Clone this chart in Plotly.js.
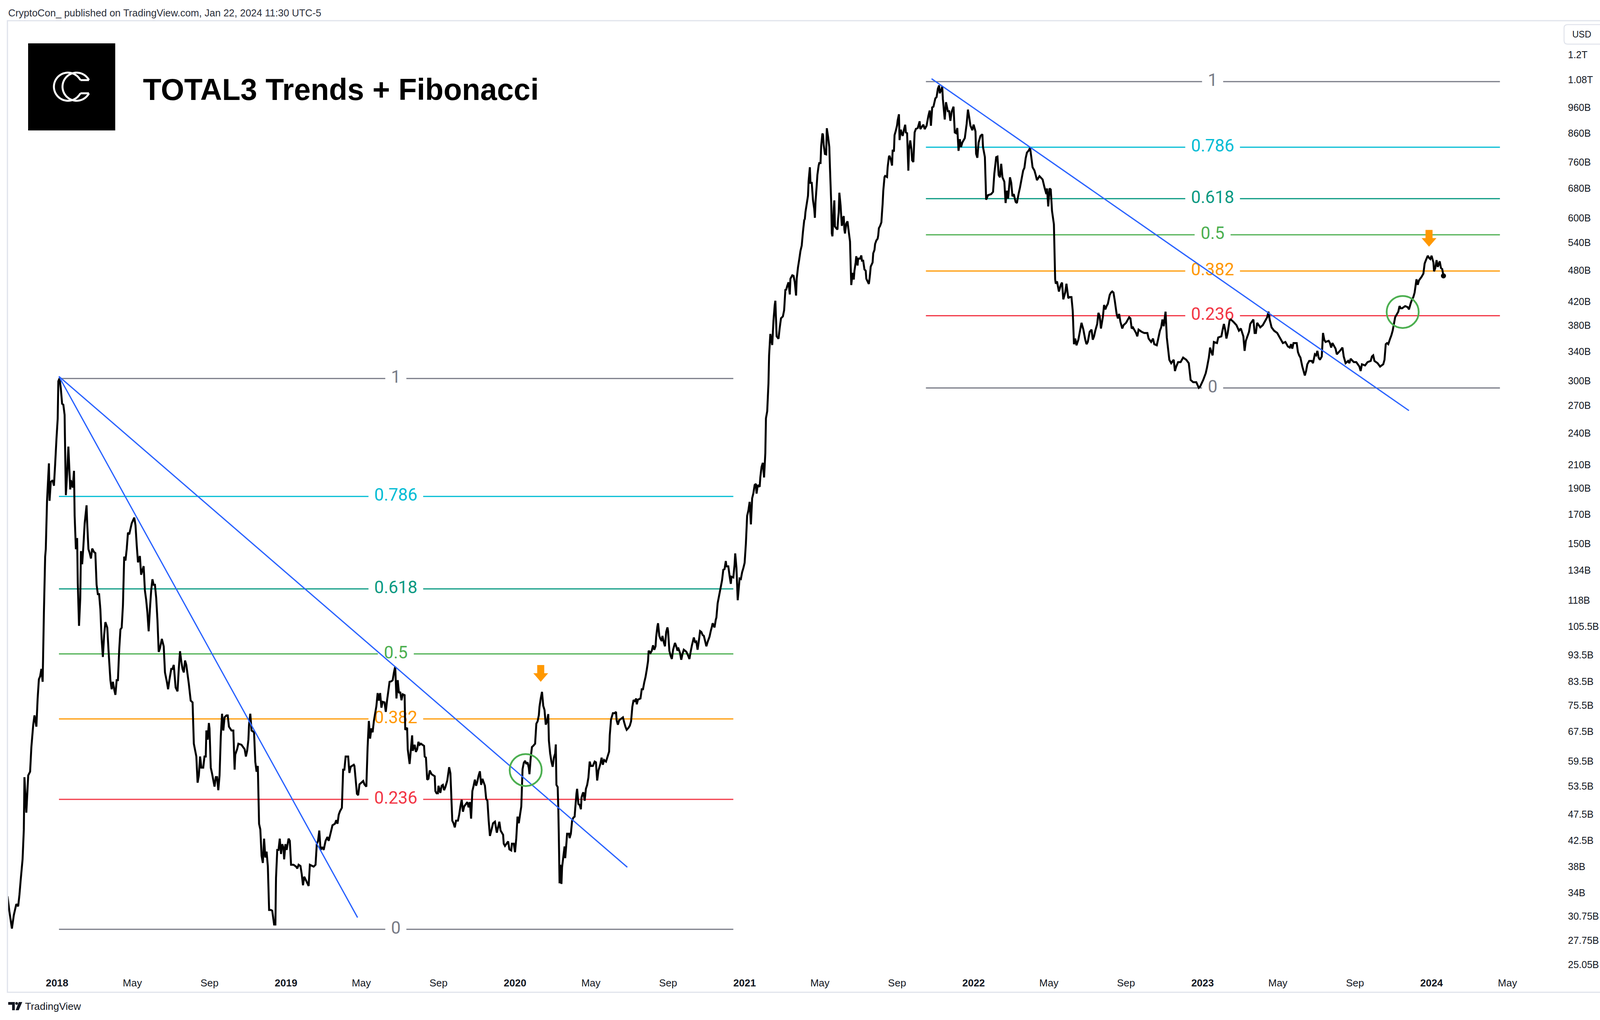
<!DOCTYPE html>
<html><head><meta charset="utf-8">
<script src="https://cdn.plot.ly/plotly-3.0.1.min.js"></script>
<style>html,body{margin:0;padding:0;background:#fff;}#chart{width:4164px;height:2612px;}</style>
</head><body><div id="chart"></div>
<script>
// ---------------- DATA (values in USD billions) ----------------
const priceA = [["2017-10-14",33.5],["2017-10-17",31.4],["2017-10-21",29.2],["2017-10-24",30.9],["2017-10-28",32.4],["2017-10-31",32.1],["2017-11-02",33.7],["2017-11-04",35.9],["2017-11-07",39.2],["2017-11-09",44.5],["2017-11-10",55.6],["2017-11-13",47.8],["2017-11-16",56.0],["2017-11-19",56.9],["2017-11-21",63.1],["2017-11-24",69.5],["2017-11-26",72.3],["2017-11-29",68.9],["2017-12-01",77.6],["2017-12-03",84.3],["2017-12-05",85.4],["2017-12-07",88.1],["2017-12-09",83.4],["2017-12-11",111.9],["2017-12-13",142.0],["2017-12-14",146.6],["2017-12-16",180.1],["2017-12-19",211.2],["2017-12-20",180.1],["2017-12-22",195.1],["2017-12-25",196.6],["2017-12-27",192.0],["2017-12-29",211.2],["2017-12-31",234.1],
["2018-01-02",255.5],["2018-01-03",299.5],["2018-01-05",303.3],["2018-01-07",290.1],["2018-01-09",272.2],["2018-01-11",271.0],["2018-01-13",259.6],["2018-01-14",218.0],["2018-01-15",184.5],["2018-01-17",201.4],["2018-01-19",226.8],["2018-01-22",189.0],["2018-01-23",196.6],["2018-01-26",190.5],["2018-01-28",204.6],["2018-01-29",169.0],["2018-01-31",146.6],["2018-02-02",153.7],["2018-02-03",127.0],["2018-02-05",105.8],["2018-02-07",119.2],["2018-02-08",145.4],["2018-02-10",137.5],["2018-02-12",148.9],["2018-02-14",163.7],["2018-02-17",176.7],["2018-02-18",163.7],["2018-02-20",146.6],["2018-02-22",144.2],["2018-02-24",140.9],["2018-02-26",147.0],["2018-03-01",144.8],["2018-03-03",144.2],["2018-03-05",126.0],["2018-03-07",121.1],["2018-03-09",121.1],["2018-03-11",113.6],["2018-03-13",100.1],["2018-03-15",92.7],["2018-03-17",101.7],["2018-03-19",107.5],["2018-03-22",105.0],["2018-03-24",95.4],["2018-03-27",84.0],["2018-03-29",80.8],["2018-03-31",83.4],["2018-04-02",80.8],["2018-04-04",78.9],["2018-04-06",84.0],["2018-04-08",84.0],["2018-04-10",95.4],["2018-04-12",104.2],["2018-04-14",105.0],["2018-04-16",115.5],["2018-04-18",142.0],["2018-04-20",139.7],["2018-04-22",146.6],["2018-04-24",157.3],["2018-04-26",156.1],["2018-04-30",163.7],["2018-05-04",167.7],["2018-05-06",162.4],["2018-05-08",148.9],["2018-05-10",138.6],["2018-05-13",142.4],["2018-05-15",131.5],["2018-05-19",136.4],["2018-05-21",123.0],["2018-05-23",118.2],["2018-05-25",111.9],["2018-05-27",103.4],["2018-05-29",113.6],["2018-05-31",123.0],["2018-06-02",129.0],["2018-06-04",126.0],["2018-06-06",126.0],["2018-06-08",119.2],["2018-06-10",108.4],["2018-06-12",94.7],["2018-06-14",96.2],["2018-06-17",100.1],["2018-06-20",97.0],["2018-06-22",86.8],["2018-06-25",83.4],["2018-06-27",80.8],["2018-06-29",84.0],["2018-07-02",88.1],["2018-07-04",88.1],["2018-07-06",89.6],["2018-07-08",84.0],["2018-07-09",81.4],["2018-07-12",80.1],["2018-07-14",88.1],["2018-07-16",95.0],["2018-07-18",91.0],["2018-07-20",88.1],["2018-07-22",86.8],["2018-07-24",91.3],["2018-07-26",89.6],["2018-07-30",82.7],["2018-08-02",77.0],["2018-08-05",76.4],["2018-08-07",64.1],["2018-08-11",60.7],["2018-08-13",54.3],["2018-08-15",56.0],["2018-08-17",60.7],["2018-08-19",57.9],["2018-08-22",57.9],["2018-08-24",60.7],["2018-08-26",60.7],["2018-08-27",67.8],["2018-08-29",65.2],["2018-08-31",70.0],["2018-09-01",68.4],["2018-09-03",57.9],["2018-09-05",56.5],["2018-09-09",53.4],["2018-09-11",55.6],["2018-09-13",55.6],["2018-09-15",52.6],["2018-09-17",56.0],["2018-09-19",66.2],["2018-09-21",72.8],["2018-09-23",67.8],["2018-09-25",71.7],["2018-09-28",72.3],["2018-09-30",72.3],["2018-10-02",68.9],["2018-10-06",67.8],["2018-10-09",67.8],["2018-10-11",57.4],["2018-10-12",61.2],["2018-10-15",62.6],["2018-10-17",64.1],["2018-10-22",63.8],["2018-10-27",62.6],["2018-10-29",60.7],["2018-10-31",62.2],["2018-11-02",65.2],["2018-11-03",69.5],["2018-11-05",72.8],["2018-11-07",67.8],["2018-11-11",67.3],["2018-11-13",59.3],["2018-11-15",56.9],["2018-11-17",58.3],["2018-11-19",45.6],["2018-11-21",44.5],["2018-11-23",39.8],["2018-11-25",38.6],["2018-11-27",42.8],["2018-11-29",39.5],["2018-12-01",40.5],["2018-12-03",38.0],["2018-12-05",31.6],["2018-12-08",31.6],["2018-12-10",31.5],["2018-12-13",29.7],["2018-12-15",29.7],["2018-12-16",36.2],["2018-12-18",40.8],["2018-12-20",40.8],["2018-12-22",42.8],["2018-12-24",40.1],["2018-12-26",41.8],["2018-12-28",41.1],["2018-12-29",39.2],["2018-12-31",41.8]];
const priceB = [["2019-01-02",40.8],["2019-01-05",42.8],["2019-01-07",42.4],["2019-01-09",38.3],["2019-01-13",38.3],["2019-01-17",38.0],["2019-01-19",37.7],["2019-01-21",38.3],["2019-01-24",38.1],["2019-01-26",36.8],["2019-01-28",35.1],["2019-01-30",36.4],["2019-02-02",35.8],["2019-02-06",35.0],["2019-02-08",38.3],["2019-02-14",38.0],["2019-02-17",38.3],["2019-02-19",41.8],["2019-02-21",42.4],["2019-02-23",44.3],["2019-02-25",40.8],["2019-02-28",41.3],["2019-03-02",40.8],["2019-03-05",42.4],["2019-03-08",43.1],["2019-03-10",42.4],["2019-03-13",43.8],["2019-03-16",45.3],["2019-03-20",45.6],["2019-03-22",46.3],["2019-03-24",45.6],["2019-03-26",47.4],["2019-03-28",48.1],["2019-03-31",48.8],["2019-04-02",57.4],["2019-04-04",57.4],["2019-04-06",60.7],["2019-04-10",60.7],["2019-04-12",56.6],["2019-04-14",58.1],["2019-04-19",58.6],["2019-04-20",58.3],["2019-04-22",55.0],["2019-04-24",51.8],["2019-04-26",51.5],["2019-04-28",53.9],["2019-05-04",54.7],["2019-05-06",53.9],["2019-05-09",53.4],["2019-05-11",63.1],["2019-05-13",70.6],["2019-05-15",65.5],["2019-05-17",68.4],["2019-05-19",67.3],["2019-05-21",70.6],["2019-05-25",75.2],["2019-05-27",79.5],["2019-05-29",77.0],["2019-05-31",79.5],["2019-06-02",74.7],["2019-06-04",76.6],["2019-06-07",76.4],["2019-06-09",73.4],["2019-06-11",77.0],["2019-06-13",80.1],["2019-06-15",83.4]];
const priceC = [["2019-06-18",83.6],["2019-06-20",84.0],["2019-06-22",86.8],["2019-06-24",89.0],["2019-06-26",77.7],["2019-06-28",84.0],["2019-06-30",79.5],["2019-07-02",79.9],["2019-07-04",77.1],["2019-07-06",79.1],["2019-07-09",78.8],["2019-07-10",68.0],["2019-07-13",68.6],["2019-07-14",62.6],["2019-07-17",58.8],["2019-07-19",62.6],["2019-07-21",66.4],["2019-07-22",62.2],["2019-07-25",63.8],["2019-07-27",61.9],["2019-07-29",62.6],["2019-07-31",64.6],["2019-08-02",63.8],["2019-08-04",64.1],["2019-08-09",63.5],["2019-08-10",60.7],["2019-08-12",60.4],["2019-08-14",55.0],["2019-08-16",55.2],["2019-08-18",57.2],["2019-08-21",56.3],["2019-08-26",55.8],["2019-08-27",52.4],["2019-08-29",51.9],["2019-08-31",51.9],["2019-09-01",53.6],["2019-09-04",52.0],["2019-09-06",53.6],["2019-09-08",53.8],["2019-09-10",52.6],["2019-09-12",53.3],["2019-09-15",54.8],["2019-09-18",58.0],["2019-09-20",56.5],["2019-09-23",46.2],["2019-09-25",45.7],["2019-09-27",44.9],["2019-09-29",46.2],["2019-10-02",46.2],["2019-10-04",47.4],["2019-10-06",49.1],["2019-10-08",50.5],["2019-10-10",48.0],["2019-10-12",49.1],["2019-10-17",50.0],["2019-10-19",48.9],["2019-10-21",50.0],["2019-10-23",46.6],["2019-10-25",52.4],["2019-10-27",53.6],["2019-10-29",55.0],["2019-10-31",53.6],["2019-11-02",54.6],["2019-11-04",56.0],["2019-11-06",57.0],["2019-11-08",53.8],["2019-11-10",55.2],["2019-11-14",53.6],["2019-11-16",50.7],["2019-11-18",50.3],["2019-11-20",46.2],["2019-11-22",43.3],["2019-11-25",44.7],["2019-11-27",45.7],["2019-11-30",46.0],["2019-12-03",43.9],["2019-12-05",44.9],["2019-12-07",46.0],["2019-12-09",44.3],["2019-12-13",43.5],["2019-12-14",41.9],["2019-12-16",41.5],["2019-12-21",42.3],["2019-12-23",40.9],["2019-12-26",40.7],["2019-12-27",41.9],["2019-12-30",41.9],
["2020-01-01",40.4],["2020-01-03",42.9],["2020-01-05",47.0],["2020-01-07",45.7],["2020-01-09",47.4],["2020-01-11",49.1],["2020-01-13",57.5],["2020-01-15",59.1],["2020-01-17",59.6],["2020-01-19",58.8],["2020-01-21",59.2],["2020-01-23",57.8],["2020-01-24",56.3],["2020-01-26",60.4],["2020-01-28",63.2],["2020-01-30",63.5],["2020-02-02",64.1],["2020-02-04",69.8],["2020-02-06",70.5],["2020-02-08",72.4],["2020-02-09",75.0],["2020-02-11",77.7],["2020-02-13",79.9],["2020-02-15",75.3],["2020-02-17",74.0],["2020-02-19",69.5],["2020-02-21",70.5],["2020-02-23",72.7],["2020-02-24",64.9],["2020-02-26",61.5],["2020-02-28",59.4],["2020-03-01",58.1],["2020-03-03",60.4],["2020-03-05",61.5],["2020-03-06",63.9],["2020-03-07",53.8],["2020-03-09",53.3],["2020-03-10",48.7],["2020-03-11",42.1],["2020-03-12",35.4],["2020-03-13",38.3],["2020-03-15",35.3],["2020-03-16",37.9],["2020-03-18",39.6],["2020-03-20",41.4],["2020-03-21",39.4],["2020-03-23",42.1],["2020-03-24",43.7],["2020-03-27",43.7],["2020-03-28",42.9],["2020-03-30",43.7],["2020-04-01",46.2],["2020-04-03",46.8],["2020-04-05",47.0],["2020-04-06",48.7],["2020-04-08",51.9],["2020-04-09",52.9],["2020-04-11",49.6],["2020-04-13",49.4],["2020-04-15",48.5],["2020-04-16",51.0],["2020-04-18",51.9],["2020-04-19",52.1],["2020-04-21",50.3],["2020-04-23",52.9],["2020-04-25",53.8],["2020-04-27",55.5],["2020-04-29",59.4],["2020-05-01",58.3],["2020-05-04",58.3],["2020-05-07",59.4],["2020-05-09",59.2],["2020-05-11",54.8],["2020-05-13",57.2],["2020-05-16",58.8],["2020-05-18",60.4],["2020-05-20",58.6],["2020-05-22",59.8],["2020-05-25",59.4],["2020-05-27",60.4],["2020-05-30",62.0],["2020-05-31",66.4],["2020-06-02",71.0],["2020-06-05",73.0],["2020-06-08",73.0],["2020-06-10",73.4],["2020-06-11",70.8],["2020-06-13",69.5],["2020-06-15",70.8],["2020-06-19",71.4],["2020-06-21",71.7],["2020-06-23",70.2],["2020-06-25",68.9],["2020-06-27",68.0],["2020-06-30",68.6],["2020-07-02",69.2],["2020-07-04",70.5],["2020-07-06",75.0],["2020-07-08",77.2],["2020-07-10",76.6],["2020-07-12",77.7],["2020-07-13",75.8],["2020-07-15",77.3],["2020-07-19",77.7],["2020-07-21",80.8],["2020-07-23",80.8],["2020-07-25",83.2],["2020-07-27",85.1],["2020-07-29",87.8],["2020-07-31",91.0],["2020-08-01",95.2],["2020-08-04",94.3],["2020-08-06",95.2],["2020-08-08",97.4],["2020-08-10",95.6],["2020-08-12",97.0],["2020-08-13",101.0],["2020-08-15",105.6],["2020-08-16",107.0],["2020-08-18",101.4],["2020-08-20",100.0],["2020-08-22",99.2],["2020-08-23",101.4],["2020-08-25",98.8],["2020-08-27",97.0],["2020-08-29",103.1],["2020-08-31",105.1],["2020-09-01",103.5],["2020-09-03",95.2],["2020-09-05",93.2],["2020-09-07",91.9],["2020-09-09",95.6],["2020-09-12",98.4],["2020-09-14",97.0],["2020-09-16",95.2],["2020-09-17",96.5],["2020-09-20",94.3],["2020-09-22",91.6],["2020-09-24",93.9],["2020-09-26",95.6],["2020-09-30",94.8],["2020-10-03",93.2],["2020-10-05",91.9],["2020-10-07",94.8],["2020-10-09",97.4],["2020-10-12",100.7],["2020-10-14",98.8],["2020-10-16",99.0],["2020-10-18",95.6],["2020-10-20",99.2],["2020-10-22",103.5],["2020-10-24",103.1],["2020-10-26",101.8],["2020-10-28",101.4],["2020-10-30",99.2],["2020-11-01",97.0],["2020-11-03",98.8],["2020-11-06",101.0],["2020-11-08",103.5],["2020-11-10",105.6],["2020-11-11",107.0],["2020-11-14",105.1],["2020-11-16",108.6],["2020-11-17",109.6],["2020-11-19",116.5]];
const priceD = [["2020-11-26",128.4],["2020-11-28",134.3],["2020-11-30",134.7],["2020-12-02",139.4],["2020-12-03",136.3],["2020-12-06",136.3],["2020-12-08",130.9],["2020-12-10",126.5],["2020-12-11",130.4],["2020-12-14",130.0],["2020-12-16",137.3],["2020-12-17",144.0],["2020-12-19",135.3],["2020-12-21",118.0],["2020-12-24",129.4],["2020-12-26",129.1],["2020-12-28",132.9],["2020-12-30",135.3],
["2021-01-01",138.3],["2021-01-03",150.1],["2021-01-05",169.0],["2021-01-07",172.8],["2021-01-09",179.3],["2021-01-11",162.9],["2021-01-13",182.0],["2021-01-15",186.1],["2021-01-17",192.6],["2021-01-19",193.6],["2021-01-20",185.7],["2021-01-22",192.6],["2021-01-25",191.2],["2021-01-26",198.9],["2021-01-28",208.0],["2021-01-30",211.7],["2021-02-01",198.9],["2021-02-03",220.7],["2021-02-04",255.9],["2021-02-06",263.6],["2021-02-08",296.8],["2021-02-09",334.2],["2021-02-11",366.3],["2021-02-14",349.4],["2021-02-16",387.6],["2021-02-18",414.3],["2021-02-19",421.8],["2021-02-21",362.6],["2021-02-24",358.8],["2021-02-26",376.3],["2021-02-28",391.6],["2021-03-03",394.6],["2021-03-05",405.2],["2021-03-07",442.9],["2021-03-08",440.9],["2021-03-10",449.5],["2021-03-12",456.2],["2021-03-14",433.2],["2021-03-15",463.1],["2021-03-18",470.0],["2021-03-20",469.0],["2021-03-22",456.2],["2021-03-24",431.2],["2021-03-25",463.1],["2021-03-27",485.5],["2021-03-29",502.4],["2021-03-31",521.3],["2021-04-02",533.1],["2021-04-04",565.6],["2021-04-06",594.0],["2021-04-07",597.4],["2021-04-08",615.5],["2021-04-10",636.9],["2021-04-12",659.0],["2021-04-13",701.3],["2021-04-15",744.2],["2021-04-16",696.3],["2021-04-18",696.3],["2021-04-20",646.4],["2021-04-22",622.9],["2021-04-23",600.2],["2021-04-24",641.6],["2021-04-26",691.1],["2021-04-27",720.3],["2021-04-29",749.6],["2021-04-30",757.6],["2021-05-02",757.6],["2021-05-03",813.4],["2021-05-05",859.3],["2021-05-06",854.2],["2021-05-07",819.4],["2021-05-09",787.3],["2021-05-11",786.0],["2021-05-12",878.6],["2021-05-14",847.8],["2021-05-16",811.0],["2021-05-17",744.2],["2021-05-19",641.6],["2021-05-20",561.5],["2021-05-21",554.8],["2021-05-23",622.9],["2021-05-24",646.4],["2021-05-25",578.3],["2021-05-27",574.2],["2021-05-29",571.0],["2021-05-30",597.4],["2021-05-31",613.7],["2021-06-01",667.8],["2021-06-03",632.2],["2021-06-04",602.8],["2021-06-05",580.0],["2021-06-07",600.2],["2021-06-08",604.6],["2021-06-09",571.0],["2021-06-10",561.5],["2021-06-12",585.3],["2021-06-14",591.3],["2021-06-16",565.6],["2021-06-18",542.6],["2021-06-19",491.4],["2021-06-20",450.9],["2021-06-22",474.9],["2021-06-24",461.7],["2021-06-25",478.4],["2021-06-27",496.4],["2021-06-28",509.8],["2021-06-30",489.9],["2021-07-01",504.6],["2021-07-04",504.6],["2021-07-06",511.4],["2021-07-07",500.1],["2021-07-09",500.1],["2021-07-11",481.9],["2021-07-13",479.1],["2021-07-14",463.1],["2021-07-18",452.9],["2021-07-19",461.7],["2021-07-20",473.5],["2021-07-21",487.7],["2021-07-24",496.4],["2021-07-25",516.0],["2021-07-27",523.7],["2021-07-28",537.0],["2021-07-30",545.1],["2021-08-01",549.1],["2021-08-02",557.3],["2021-08-03",574.2],["2021-08-05",580.0],["2021-08-07",588.8],["2021-08-08",613.7],["2021-08-09",636.9],["2021-08-10",672.7],["2021-08-12",713.9],["2021-08-13",717.1],["2021-08-16",713.9],["2021-08-17",744.2],["2021-08-19",778.0],["2021-08-20",781.4],["2021-08-22",768.8],["2021-08-24",749.6],["2021-08-25",801.5],["2021-08-27",795.4],["2021-08-28",852.9],["2021-08-30",869.4],["2021-09-01",889.1],["2021-09-02",909.0],["2021-09-04",932.2],["2021-09-05",835.4],["2021-09-07",873.3],["2021-09-08",863.1],["2021-09-10",850.4],["2021-09-12",873.3],["2021-09-14",891.6],["2021-09-15",863.1],["2021-09-17",860.0],["2021-09-19",733.3],["2021-09-20",801.5],["2021-09-22",834.1],["2021-09-24",801.5],["2021-09-25",766.6],["2021-09-27",760.9],["2021-09-29",863.1],["2021-10-01",876.0]];
const priceE = [["2021-10-04",879.4],["2021-10-07",904.9],["2021-10-08",875.2],["2021-10-13",892.1],["2021-10-15",875.2],["2021-10-18",887.8],["2021-10-21",926.8],["2021-10-23",947.3],["2021-10-25",887.8],["2021-10-27",959.9],["2021-10-29",962.8],["2021-11-01",997.3],["2021-11-03",1003.0],["2021-11-05",1039.0],["2021-11-07",1053.9],["2021-11-08",1019.4],["2021-11-11",1039.0],["2021-11-12",1048.8],["2021-11-13",995.4],["2021-11-16",911.8],["2021-11-18",981.3],["2021-11-21",944.6],["2021-11-23",944.6],["2021-11-25",906.7],["2021-11-27",941.9],["2021-11-30",962.8],["2021-12-02",862.8],["2021-12-04",860.3],["2021-12-06",879.4],["2021-12-08",797.9],["2021-12-10",838.5],["2021-12-12",811.0],["2021-12-14",826.6],["2021-12-18",842.5],["2021-12-21",896.3],["2021-12-23",950.9],["2021-12-25",920.5],["2021-12-27",887.8],["2021-12-30",871.0],
["2022-01-01",892.1],["2022-01-04",866.8],["2022-01-05",788.1],["2022-01-07",774.8],["2022-01-09",826.6],["2022-01-12",850.6],["2022-01-15",856.3],["2022-01-16",811.0],["2022-01-19",776.9],["2022-01-21",648.3],["2022-01-24",660.8],["2022-01-29",663.9],["2022-02-01",670.3],["2022-02-03",723.4],["2022-02-06",776.9],["2022-02-08",778.7],["2022-02-10",720.0],["2022-02-12",713.1],["2022-02-14",755.0],["2022-02-16",713.1],["2022-02-19",699.7],["2022-02-21",639.1],["2022-02-23",673.5],["2022-02-25",651.4],["2022-02-28",713.1],["2022-03-02",696.4],["2022-03-04",657.6],["2022-03-06",663.9],["2022-03-09",642.2],["2022-03-11",639.1],["2022-03-14",667.1],["2022-03-16",683.2],["2022-03-18",703.1],["2022-03-21",733.8],["2022-03-23",742.2],["2022-03-25",773.3],["2022-03-27",791.8],["2022-03-30",799.4],["2022-04-01",808.6],["2022-04-03",776.9],["2022-04-05",744.3],["2022-04-08",733.8],["2022-04-10",720.0],["2022-04-12",704.4],["2022-04-16",716.5],["2022-04-21",706.4],["2022-04-24",683.2],["2022-04-27",663.9],["2022-04-28",680.0],["2022-04-30",630.1],["2022-05-02",680.0],["2022-05-04",676.7],["2022-05-06",618.1],["2022-05-09",583.8],["2022-05-11",462.2],["2022-05-12",453.5],["2022-05-14",457.9],["2022-05-17",438.7],["2022-05-20",451.4],["2022-05-22",455.7],["2022-05-24",424.3],["2022-05-27",436.6],["2022-05-29",453.5],["2022-06-01",426.3],["2022-06-03",428.4],["2022-06-06",428.4],["2022-06-08",404.5],["2022-06-10",350.6],["2022-06-12",359.1],["2022-06-14",349.0],["2022-06-17",357.4],["2022-06-19",367.7],["2022-06-22",383.9],["2022-06-25",373.0],["2022-06-28",357.4],["2022-06-30",350.6],["2022-07-02",354.0],["2022-07-05",369.5],["2022-07-08",373.0],["2022-07-10",357.4],["2022-07-12",362.5],["2022-07-14",371.3],["2022-07-17",382.1],["2022-07-19",400.7],["2022-07-21",395.0],["2022-07-23",374.8],["2022-07-26",393.2],["2022-07-28",414.3],["2022-07-30",406.5],["2022-08-01",412.3],["2022-08-03",416.3],["2022-08-06",432.5],["2022-08-08",436.6],["2022-08-10",438.7],["2022-08-12",436.6],["2022-08-14",422.3],["2022-08-17",398.8],["2022-08-19",391.3],["2022-08-21",398.8],["2022-08-23",385.8],["2022-08-26",374.8],["2022-08-28",380.2],["2022-09-01",383.9],["2022-09-06",393.2],["2022-09-08",391.3],["2022-09-10",374.8],["2022-09-12",376.6],["2022-09-17",367.7],["2022-09-19",362.5],["2022-09-21",373.0],["2022-09-26",369.5],["2022-09-30",367.7],["2022-10-05",367.7],["2022-10-07",359.1],["2022-10-11",354.0],["2022-10-14",359.1],["2022-10-16",350.6],["2022-10-20",349.0],["2022-10-22",357.4],["2022-10-25",371.3],["2022-10-27",376.6],["2022-10-29",389.4],["2022-10-31",378.5],["2022-11-03",402.6],["2022-11-05",360.8],["2022-11-07",344.0],["2022-11-09",328.1],["2022-11-12",323.4],["2022-11-16",328.1],["2022-11-18",312.8],["2022-11-20",318.8],["2022-11-23",324.9],["2022-11-27",324.9],["2022-12-01",331.2],["2022-12-06",328.1],["2022-12-10",323.4],["2022-12-13",301.1],["2022-12-17",298.3],["2022-12-22",298.3],["2022-12-26",291.2],["2022-12-28",292.6]];
const priceF = [["2023-01-02",301.1],["2023-01-06",309.8],["2023-01-08",317.3],["2023-01-11",331.2],["2023-01-13",345.6],["2023-01-15",339.2],["2023-01-17",334.3],["2023-01-19",354.0],["2023-01-24",352.3],["2023-01-26",360.8],["2023-01-31",362.5],["2023-02-02",373.0],["2023-02-04",382.1],["2023-02-06",373.0],["2023-02-08",359.1],["2023-02-10",367.7],["2023-02-13",387.6],["2023-02-15",389.4],["2023-02-19",385.8],["2023-02-24",380.2],["2023-02-28",371.3],["2023-03-03",374.8],["2023-03-07",362.5],["2023-03-09",340.8],["2023-03-11",355.7],["2023-03-16",369.5],["2023-03-18",382.1],["2023-03-23",389.4],["2023-03-25",367.7],["2023-03-27",367.7],["2023-03-29",383.9],["2023-04-03",376.6],["2023-04-07",380.2],["2023-04-12",389.4],["2023-04-14",393.2],["2023-04-16",402.6],["2023-04-18",389.4],["2023-04-21",376.6],["2023-04-25",371.3],["2023-04-30",367.7],["2023-05-04",360.8],["2023-05-09",352.3],["2023-05-13",354.0],["2023-05-17",347.3],["2023-05-20",345.6],["2023-05-22",350.6],["2023-05-24",344.0],["2023-05-26",352.3],["2023-05-31",352.3],["2023-06-02",339.2],["2023-06-04",334.3],["2023-06-06",331.2],["2023-06-09",318.8],["2023-06-11",312.8],["2023-06-13",306.9],["2023-06-15",312.8],["2023-06-17",321.9],["2023-06-20",326.5],["2023-06-24",326.5],["2023-06-26",323.4],["2023-06-29",335.9],["2023-07-01",334.3],["2023-07-03",340.8],["2023-07-05",331.2],["2023-07-07",328.1],["2023-07-10",332.7],["2023-07-12",367.7],["2023-07-14",357.4],["2023-07-16",354.0],["2023-07-21",355.7],["2023-07-23",352.3],["2023-07-25",345.6],["2023-07-27",352.3],["2023-08-01",344.0],["2023-08-03",335.9],["2023-08-08",340.8],["2023-08-12",345.6],["2023-08-14",332.7],["2023-08-17",323.4],["2023-08-21",326.5],["2023-08-23",323.4],["2023-08-25",329.6],["2023-08-30",324.9],["2023-09-03",324.9],["2023-09-08",318.8],["2023-09-10",312.8],["2023-09-12",321.9],["2023-09-17",320.3],["2023-09-21",324.9],["2023-09-26",326.5],["2023-09-28",332.7],["2023-09-30",334.3],["2023-10-02",326.5],["2023-10-07",323.4],["2023-10-11",318.8],["2023-10-16",321.9],["2023-10-18",328.1],["2023-10-20",350.6],["2023-10-22",352.3],["2023-10-24",350.6],["2023-10-27",359.1],["2023-10-29",364.2],["2023-10-31",371.3],["2023-11-02",382.1],["2023-11-04",393.2],["2023-11-06",396.9],["2023-11-09",402.6],["2023-11-11",412.3],["2023-11-13",408.4],["2023-11-15",408.4],["2023-11-20",412.3],["2023-11-24",410.4],["2023-11-26",406.5],["2023-11-29",418.2],["2023-12-01",424.3],["2023-12-03",428.4],["2023-12-05",436.6],["2023-12-08",462.2],["2023-12-10",451.4],["2023-12-12",460.0],["2023-12-16",466.7],["2023-12-19",473.4],["2023-12-21",494.1],["2023-12-23",501.2],["2023-12-26",510.8],["2023-12-28",506.0],["2023-12-30",503.6],["2024-01-01",510.8],["2024-01-04",496.4],["2024-01-05",477.9],["2024-01-07",484.8],["2024-01-09",501.2],["2024-01-11",487.1],["2024-01-14",498.8],["2024-01-16",484.8],["2024-01-18",482.5],["2024-01-20",468.9]];

// Fibonacci retracements (drawn in log space, as on the log chart)
const fibRatios = [1, 0.786, 0.618, 0.5, 0.382, 0.236, 0];
const fibLabels = ["1", "0.786", "0.618", "0.5", "0.382", "0.236", "0"];
const fibColors = ["#787b86", "#00bcd4", "#089981", "#4caf50", "#ff9800", "#f23645", "#787b86"];
const fibStart = ["2018-01-04", "2021-10-17"];
const fibEnd = ["2020-12-14", "2024-04-19"];
const fibLabelDate = ["2019-06-25", "2023-01-17"];
const fibHigh = [303, 1071];
const fibLow = [29.1, 291];

// Trend lines
const trendStartDate = ["2018-01-04", "2018-01-04", "2021-10-26"];
const trendStartVal = [305.7, 305.7, 1084.5];
const trendEndDate = ["2019-04-25", "2020-06-28", "2023-11-26"];
const trendEndVal = [30.6, 37.9, 264.3];

// Marks: breakout circles and rejection arrows
const circleDate = ["2020-01-18", "2023-11-16"];
const circleVal = [57.3, 402.1];
const arrowDate = ["2020-02-11", "2023-12-28"];
const arrowVal = [83.4, 530.8];

// Axis ticks
const xTickVals = ["2018-01-01","2018-05-01","2018-09-01","2019-01-01","2019-05-01","2019-09-01","2020-01-01","2020-05-01","2020-09-01","2021-01-01","2021-05-01","2021-09-01","2022-01-01","2022-05-01","2022-09-01","2023-01-01","2023-05-01","2023-09-01","2024-01-01","2024-05-01"];
const xTickText = ["<b>2018</b>","May","Sep","<b>2019</b>","May","Sep","<b>2020</b>","May","Sep","<b>2021</b>","May","Sep","<b>2022</b>","May","Sep","<b>2023</b>","May","Sep","<b>2024</b>","May"];
const yTickVals = [1200,1080,960,860,760,680,600,540,480,420,380,340,300,270,240,210,190,170,150,134,118,105.5,93.5,83.5,75.5,67.5,59.5,53.5,47.5,42.5,38,34,30.75,27.75,25.05];
const yTickText = ["1.2T","1.08T","960B","860B","760B","680B","600B","540B","480B","420B","380B","340B","300B","270B","240B","210B","190B","170B","150B","134B","118B","105.5B","93.5B","83.5B","75.5B","67.5B","59.5B","53.5B","47.5B","42.5B","38B","34B","30.75B","27.75B","25.05B"];

// ---------------- LAYOUT / DRAWING ----------------
const W = 4164, H = 2612;
const M = {l: 21, r: 162, t: 53, b: 129};
const plotW = W - M.l - M.r, plotH = H - M.t - M.b;
const X_RANGE = ["2017-10-15 02:24", "2024-07-29"];
const Y_RANGE = [1.3895, 3.1424];
const msPerPx = (Date.parse("2024-07-29T00:00:00Z") - Date.parse("2017-10-15T02:24:00Z")) / plotW;

function P(x, y) { return ((x - M.l) / plotW).toFixed(6) + "," + (1 - (y - M.t) / plotH).toFixed(6); }
function fx(x) { return (x - M.l) / plotW; }
function fy(y) { return 1 - (y - M.t) / plotH; }
function shiftDate(d, px) {
  const ms = Date.parse(d + "T00:00:00Z") + px * msPerPx;
  return new Date(ms).toISOString().slice(0, 19).replace("T", " ");
}
function roundRect(x0, y0, x1, y1, r) {
  return "M" + P(x0 + r, y0) + " L" + P(x1 - r, y0) + " Q" + P(x1, y0) + " " + P(x1, y0 + r) +
    " L" + P(x1, y1 - r) + " Q" + P(x1, y1) + " " + P(x1 - r, y1) + " L" + P(x0 + r, y1) +
    " Q" + P(x0, y1) + " " + P(x0, y1 - r) + " L" + P(x0, y0 + r) + " Q" + P(x0, y0) + " " + P(x0 + r, y0) + " Z";
}
function arcPath(cx, cy, r, a0, a1, n) {
  let s = "";
  for (let i = 0; i <= n; i++) {
    const a = (a0 + (a1 - a0) * i / n) * Math.PI / 180;
    s += (i ? " L" : "M") + P(cx + r * Math.cos(a), cy - r * Math.sin(a));
  }
  return s;
}
function linePath(pts) { return pts.map((p, i) => (i ? "L" : "M") + P(p[0], p[1])).join(" "); }
function polyPath(pts) { return linePath(pts) + " Z"; }

const traces = [];
const labelHalfGap = {1: 27, 3: 46, 5: 70};

// Fibonacci level lines with a gap around each label
for (let f = 0; f < 2; f++) {
  const lh = Math.log10(fibHigh[f]), ll = Math.log10(fibLow[f]);
  const lx = [], ly = [], lt = [], lc = [];
  fibRatios.forEach((r, i) => {
    const v = Math.pow(10, ll + r * (lh - ll));
    const g = labelHalfGap[fibLabels[i].length];
    traces.push({
      type: "scatter", mode: "lines", hoverinfo: "skip",
      x: [fibStart[f], shiftDate(fibLabelDate[f], -g), null, shiftDate(fibLabelDate[f], g), fibEnd[f]],
      y: [v, v, null, v, v],
      line: {color: fibColors[i], width: 3}
    });
    lx.push(fibLabelDate[f]); ly.push(v); lt.push(fibLabels[i]); lc.push(fibColors[i]);
  });
  traces.push({
    type: "scatter", mode: "text", hoverinfo: "skip", x: lx, y: ly, text: lt,
    textposition: "middle center", cliponaxis: false,
    textfont: {family: "Roboto, 'Noto Sans', sans-serif", size: 44, color: lc}
  });
}

// Price line
const price = [].concat(priceA, priceB, priceC, priceD, priceE, priceF);
const px = price.map(p => p[0]), pv = price.map(p => p[1]);
traces.push({
  type: "scatter", mode: "lines", hoverinfo: "skip", x: px, y: pv,
  line: {color: "#000000", width: 5, simplify: false}
});
// Trend lines
for (let i = 0; i < trendStartDate.length; i++) {
  traces.push({
    type: "scatter", mode: "lines", hoverinfo: "skip",
    x: [trendStartDate[i], trendEndDate[i]], y: [trendStartVal[i], trendEndVal[i]],
    line: {color: "#2962ff", width: 3.2}
  });
}
// breakout circles
traces.push({
  type: "scatter", mode: "markers", hoverinfo: "skip", x: circleDate, y: circleVal, cliponaxis: false,
  marker: {symbol: "circle-open", size: 82, color: "#4caf50", line: {width: 4.5, color: "#4caf50"}}
});
// last price dot
traces.push({
  type: "scatter", mode: "markers", hoverinfo: "skip",
  x: [px[px.length - 1]], y: [pv[pv.length - 1]],
  marker: {color: "#000000", size: 13}
});

const shapes = [];
// chart frame
shapes.push({type: "rect", xref: "paper", yref: "paper", x0: fx(19), x1: fx(4143), y0: fy(53), y1: fy(2541),
  line: {color: "#e0e3eb", width: 3}, fillcolor: "rgba(0,0,0,0)", layer: "below"});
// logo square and CC glyph
shapes.push({type: "rect", xref: "paper", yref: "paper", x0: fx(72), x1: fx(295), y0: fy(111), y1: fy(334),
  line: {width: 0}, fillcolor: "#000000"});
const logoStroke = {color: "#ffffff", width: 5};
shapes.push({type: "path", xref: "paper", yref: "paper", path: arcPath(174, 222, 36, 28, 332, 60), line: logoStroke});
shapes.push({type: "path", xref: "paper", yref: "paper", path: arcPath(196, 222, 36, 28, 332, 60), line: logoStroke});
shapes.push({type: "path", xref: "paper", yref: "paper", path: linePath([[205.8, 205.1], [227.8, 205.1]]), line: logoStroke});
shapes.push({type: "path", xref: "paper", yref: "paper", path: linePath([[205.8, 238.9], [227.8, 238.9]]), line: logoStroke});
// USD box
shapes.push({type: "path", xref: "paper", yref: "paper", path: roundRect(4004, 63, 4137, 113, 9),
  line: {color: "#e0e3eb", width: 2.5}, fillcolor: "#ffffff"});
// TradingView logo mark
shapes.push({type: "path", xref: "paper", yref: "paper", line: {width: 0}, fillcolor: "#131722",
  path: polyPath([[21, 2566], [38, 2566], [38, 2587], [31, 2587], [31, 2573], [21, 2573]])});
shapes.push({type: "circle", xref: "paper", yref: "paper", line: {width: 0}, fillcolor: "#131722",
  x0: fx(39), x1: fx(46), y0: fy(2566), y1: fy(2573)});
shapes.push({type: "path", xref: "paper", yref: "paper", line: {width: 0}, fillcolor: "#131722",
  path: polyPath([[48, 2566], [57, 2566], [48, 2587], [40, 2587]])});
// orange arrows (tip at anchor, pointing down)
for (let i = 0; i < arrowDate.length; i++) {
  shapes.push({type: "path", xref: "x", yref: "y", xsizemode: "pixel", ysizemode: "pixel",
    xanchor: arrowDate[i], yanchor: arrowVal[i],
    path: "M-9,43 L9,43 L9,22 L19,22 L0,0 L-19,22 L-9,22 Z",
    line: {width: 0}, fillcolor: "#ff9800"});
}

const annotations = [
  {xref: "paper", yref: "paper", x: fx(19), y: fy(33), xanchor: "left", yanchor: "middle", showarrow: false,
   text: "CryptoCon_ published on TradingView.com, Jan 22, 2024 11:30 UTC-5",
   font: {family: "'Liberation Sans', Arial, sans-serif", size: 25.5, color: "#2a2e39"}},
  {xref: "paper", yref: "paper", x: fx(364), y: fy(229), xanchor: "left", yanchor: "middle", showarrow: false,
   text: "TOTAL3 Trends + Fibonacci",
   font: {family: "'Liberation Sans', Arial, sans-serif", size: 77, color: "#000000", weight: 700}},
  {xref: "paper", yref: "paper", x: fx(4049), y: fy(88), xanchor: "center", yanchor: "middle", showarrow: false,
   text: "USD", font: {family: "'Liberation Sans', Arial, sans-serif", size: 23, color: "#131722"}},
  {xref: "paper", yref: "paper", x: fx(62), y: fy(2577), xanchor: "left", yanchor: "middle", showarrow: false,
   text: "TradingView", font: {family: "'Liberation Sans', Arial, sans-serif", size: 26, color: "#131722"}}
];

const layout = {
  width: W, height: H,
  margin: {l: M.l, r: M.r, t: M.t, b: M.b, pad: 0},
  paper_bgcolor: "#ffffff", plot_bgcolor: "#ffffff",
  showlegend: false, hovermode: false,
  xaxis: {type: "date", range: X_RANGE, showgrid: false, zeroline: false, showline: false, ticks: "",
    tickmode: "array", tickvals: xTickVals, ticktext: xTickText, ticklabelstandoff: 16,
    tickfont: {family: "'Liberation Sans', Arial, sans-serif", size: 26, color: "#131722"}},
  yaxis: {type: "log", side: "right", range: Y_RANGE, showgrid: false, zeroline: false, showline: false, ticks: "",
    tickmode: "array", tickvals: yTickVals, ticktext: yTickText, ticklabelstandoff: 11,
    tickfont: {family: "'Liberation Sans', Arial, sans-serif", size: 25, color: "#131722"}},
  shapes: shapes,
  annotations: annotations
};

Plotly.newPlot("chart", traces, layout, {staticPlot: true, displayModeBar: false});
</script>
</body></html>
